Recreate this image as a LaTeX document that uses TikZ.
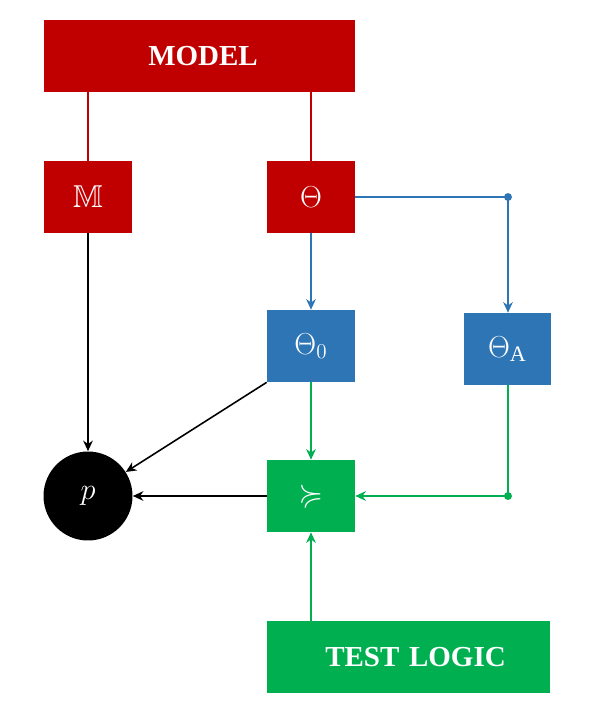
\documentclass[tikz,border=0pt]{standalone}
\usepackage{amsmath}
\usepackage{amssymb}
\usepackage{fontspec}
\setmainfont{Liberation Serif}
\usepackage{xcolor}
\usetikzlibrary{arrows.meta}
\definecolor{modelred}{HTML}{C00000}
\definecolor{parblue}{HTML}{2E75B6}
\definecolor{testgreen}{HTML}{00B050}
\tikzset{
    box/.style = {draw = none, minimum width = 1.76cm, minimum height = 1.44cm, inner sep = 0pt, text = white, font = \fontsize{18}{20}\selectfont},
    bigbox/.style = {box, font = \fontsize{16.5}{20}\selectfont\bfseries},
    link/.style = {line width = 0.9pt, -{Stealth[length = 6pt, width = 5.5pt]}},
    knot/.style = {circle, fill, inner sep = 0pt, minimum size = 4.5pt}
}
\begin{document}
\begin{tikzpicture}[x = 0.02cm, y = -0.02cm]
        \useasboundingbox (0, 0) rectangle (594, 714);
        % boxes
        \node[bigbox, fill = modelred, minimum width = 6.22cm, text width = 6.22cm, align = center] (model) at (199.5, 56) {\hspace*{4pt}MODEL};
        \node[box, fill = modelred] (mm) at (88, 197) {$\mathbb{M}$};
        \node[box, fill = modelred] (th) at (311, 197) {$\Theta$};
        \node[box, fill = parblue] (th0) at (311, 346) {$\Theta_0$};
        \node[box, fill = parblue, minimum width = 1.74cm] (tha) at (507.5, 349) {$\Theta_\mathrm{A}$};
        \node[box, fill = testgreen] (cmp) at (311, 496) {$\succcurlyeq$};
        \node[bigbox, fill = testgreen, minimum width = 5.66cm, text width = 5.66cm, align = center] (logic) at (408.5, 657) {\hspace*{8pt}TEST LOGIC};
        \node[circle, fill = black, minimum size = 1.78cm, inner sep = 0pt, text = white, font = \fontsize{18}{20}\selectfont] (p) at (88, 496) {$p$};
        \node[knot, parblue] (kb) at (508, 197) {};
        \node[knot, testgreen] (kg) at (508, 496) {};
        % model lines
        \draw[modelred, line width = 0.9pt] (model.south -| mm) -- (mm.north);
        \draw[modelred, line width = 0.9pt] (model.south -| th) -- (th.north);
        % parameters
        \draw[link, parblue] (th) -- (th0);
        \draw[parblue, line width = 0.9pt] (th.east) -- (kb.center);
        \draw[link, parblue] (kb.center) -- (kb |- tha.north);
        % test
        \draw[link, testgreen] (th0) -- (cmp);
        \draw[testgreen, line width = 0.9pt] (kg |- tha.south) -- (kg.center);
        \draw[link, testgreen] (kg.center) -- (cmp.east);
        \draw[link, testgreen] (logic.north -| cmp) -- (cmp.south);
        % p value
        \draw[link, black] (mm) -- (p);
        \draw[link, black] (th0.south west) -- (p);
        \draw[link, black] (cmp) -- (p);
    \end{tikzpicture}
\end{document}
